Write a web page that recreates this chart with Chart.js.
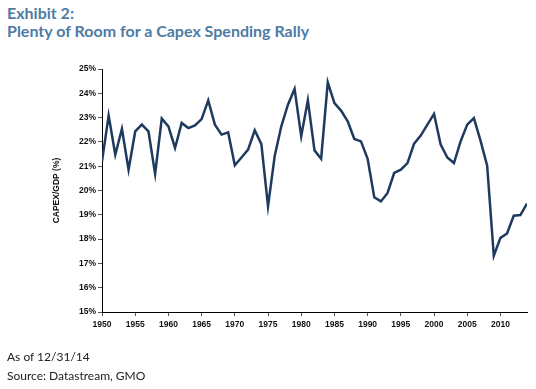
<!DOCTYPE html>
<html>
<head>
<meta charset="utf-8">
<script src="https://cdn.jsdelivr.net/npm/chart.js@4.4.1/dist/chart.umd.min.js"></script>
<style>
  body { margin: 0; background: #fff; }
  #wrap { position: relative; width: 536px; height: 389px; overflow: hidden; }
  #chartBox { position: absolute; left: 0; top: 0; width: 536px; height: 389px; }
  .title { position: absolute; left: 7px; font-family: Lato, "Liberation Sans", sans-serif; font-weight: bold; font-size: 16px; color: #4e7ba3; white-space: nowrap; }
  .note { position: absolute; left: 7px; font-family: Lato, "Liberation Sans", sans-serif; font-size: 12px; color: #222; white-space: nowrap; }
</style>
</head>
<body>
<div id="wrap">
  <div class="title" style="top:3px">Exhibit 2:</div>
  <div class="title" style="top:21px">Plenty of Room for a Capex Spending Rally</div>
  <div id="chartBox"><canvas id="myChart"></canvas></div>
  <div class="note" style="top:349px">As of 12/31/14</div>
  <div class="note" style="top:368px">Source: Datastream, GMO</div>
</div>
<script>
// capex as % of GDP, one value per year 1950..2014
var years = [];
for (var y = 1950; y <= 2014; y++) years.push(y);

var capex = [
  21.2, 23.08, 21.47, 22.54, 20.86, 22.43, 22.71, 22.43, 20.68, 22.96,
  22.64, 21.75, 22.78, 22.57, 22.68, 22.94, 23.71, 22.71, 22.30, 22.39,
  21.04, 21.36, 21.68, 22.48, 21.91, 19.35, 21.41, 22.64, 23.53, 24.18,
  22.23, 23.71, 21.65, 21.31, 24.45, 23.60, 23.29, 22.85, 22.12, 22.02,
  21.30, 19.72, 19.55, 19.90, 20.72, 20.86, 21.13, 21.93, 22.26, 22.71,
  23.15, 21.89, 21.36, 21.13, 22.02, 22.71, 22.98, 22.05, 21.02, 17.32,
  18.05, 18.23, 18.96, 18.99, 19.46
];

var yTicks = { min: 15, max: 25, step: 1 };
var xTicks = { min: 1950, max: 2014, step: 5 };

var points = years.map(function (yr, i) { return { x: yr, y: capex[i] }; });

var tickFont = { family: "'Liberation Sans', Arial, sans-serif", size: 8.5, weight: 'bold' };

const data = {
  datasets: [{
    label: 'CAPEX/GDP',
    data: points,
    borderColor: '#1f3a5f',
    borderWidth: 2.5,
    pointRadius: 0,
    tension: 0,
    fill: false
  }]
};

const config = {
  type: 'line',
  data: data,
  options: {
    responsive: true,
    maintainAspectRatio: false,
    animation: false,
    layout: { padding: { left: 50, right: 9, top: 69, bottom: 57 } },
    plugins: { legend: { display: false }, tooltip: { enabled: false } },
    scales: {
      x: {
        type: 'linear',
        min: xTicks.min,
        max: xTicks.max,
        border: { display: true, color: '#000', width: 1 },
        grid: { drawOnChartArea: false, drawTicks: true, tickLength: 4, color: '#555' },
        ticks: {
          stepSize: xTicks.step,
          includeBounds: false,
          autoSkip: false,
          maxRotation: 0,
          padding: 4,
          color: '#111',
          font: tickFont,
          callback: function (v) { return String(v); }
        },
        afterFit: function (s) { s.height = 20; }
      },
      y: {
        min: yTicks.min,
        max: yTicks.max,
        border: { display: true, color: '#000', width: 1 },
        grid: { drawOnChartArea: false, drawTicks: true, tickLength: 4, color: '#555' },
        ticks: {
          stepSize: yTicks.step,
          padding: 2,
          color: '#111',
          font: tickFont,
          callback: function (v) { return v + '%'; }
        },
        title: {
          display: true,
          text: 'CAPEX/GDP (%)',
          color: '#111',
          font: tickFont,
          padding: { top: 2, bottom: 0 }
        },
        afterFit: function (s) { s.width = 52; }
      }
    }
  }
};

const myChart = new Chart(document.getElementById('myChart'), config);
</script>
</body>
</html>
